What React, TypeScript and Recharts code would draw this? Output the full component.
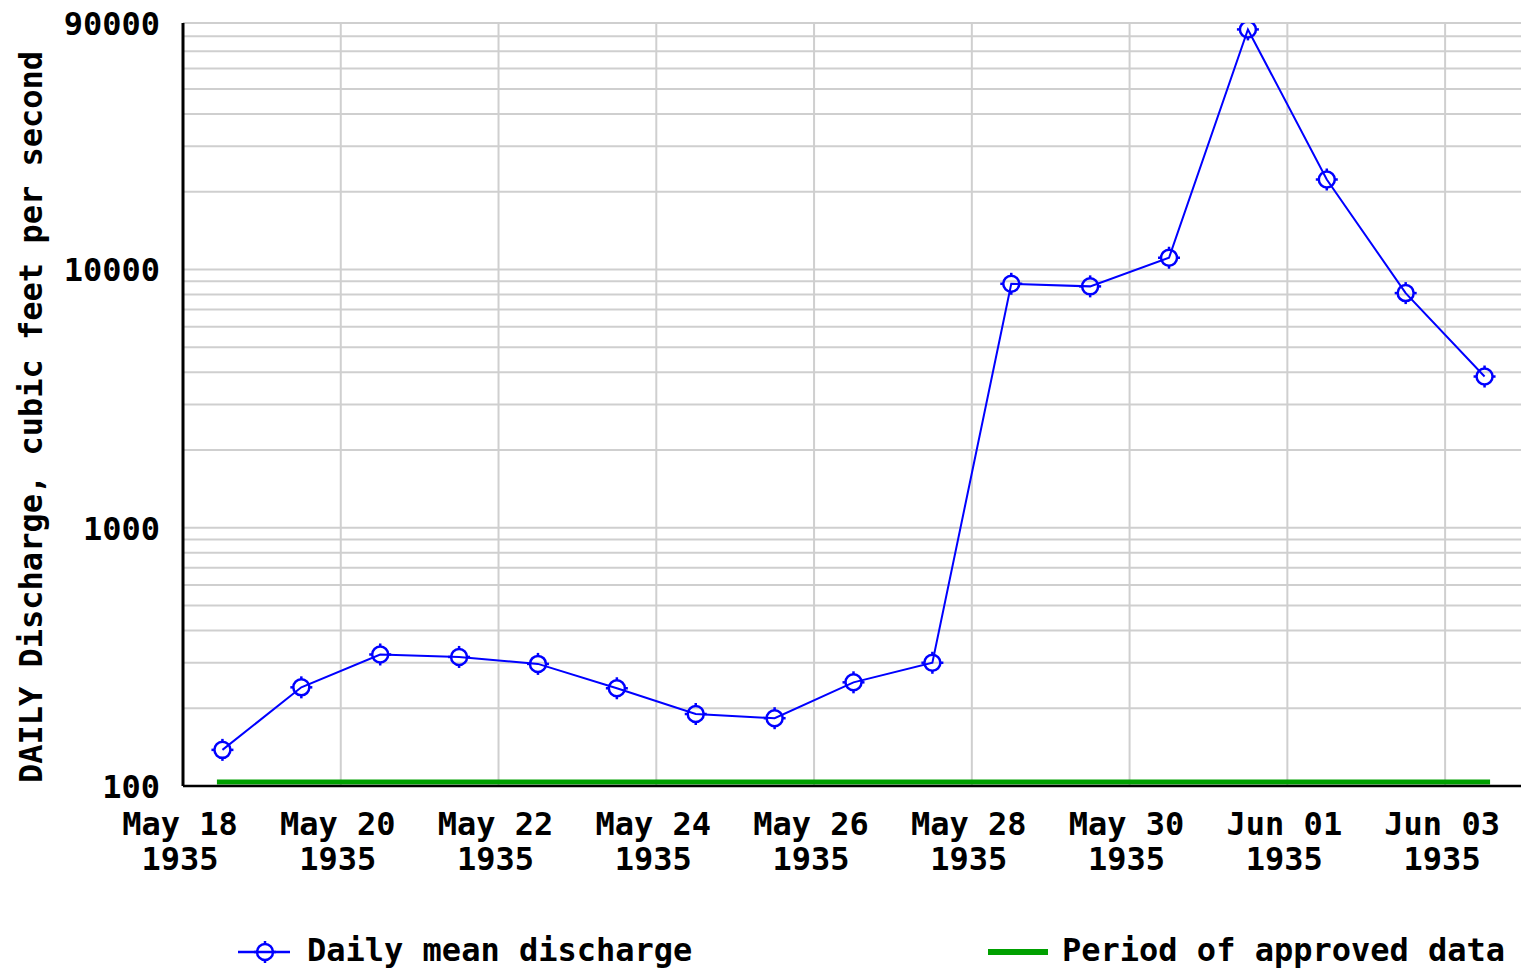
import React from 'react';
import { LineChart, Line, XAxis, YAxis, CartesianGrid, ReferenceLine, Label } from 'recharts';

// daily mean discharge, May 18 - Jun 03 1935 (cfs)
const days = [
  'May 18', 'May 19', 'May 20', 'May 21', 'May 22', 'May 23', 'May 24', 'May 25', 'May 26',
  'May 27', 'May 28', 'May 29', 'May 30', 'May 31', 'Jun 01', 'Jun 02', 'Jun 03',
];
const discharge = [138, 241, 323, 316, 297, 239, 190, 183, 252, 300, 8800, 8600, 11100, 85000, 22300, 8100, 3850];

const xTicks = [0, 2, 4, 6, 8, 10, 12, 14, 16];
const xTickLabels = ['May 18', 'May 20', 'May 22', 'May 24', 'May 26', 'May 28', 'May 30', 'Jun 01', 'Jun 03'];
const tickYear = '1935';
const topTicks = [0.5, 1, 1.5, 2.5, 3, 3.5, 4.5, 5, 5.5, 6.5, 7, 7.5, 8.5, 9, 9.5, 10.5, 11, 11.5, 12.5, 13, 13.5, 14.5, 15, 15.5, 16.5];

const yLabelTicks = [100, 1000, 10000, 90000];
const yGridTicks = [
  100, 200, 300, 400, 500, 600, 700, 800, 900,
  1000, 2000, 3000, 4000, 5000, 6000, 7000, 8000, 9000,
  10000, 20000, 30000, 40000, 50000, 60000, 70000, 80000, 90000,
];

// approved-data period bar, in days from May 18 00:00
const approvedStart = 0.43;
const approvedEnd = 16.57;
const approvedLevel = 103.6;

const data = days.map((d, i) => ({ day: i + 0.5, label: d, q: discharge[i] }));

const FONT = '"DejaVu Sans Mono", "Liberation Mono", monospace';
const BLUE = '#0000ff';
const GREEN = '#00a000';

function Marker({ cx, cy }: { cx: number; cy: number }) {
  return (
    <g stroke={BLUE} strokeWidth={2.5} fill="none">
      <circle cx={cx} cy={cy} r={8} />
      <line x1={cx} y1={cy - 8} x2={cx} y2={cy - 11} />
      <line x1={cx} y1={cy + 8} x2={cx} y2={cy + 11} />
      <line x1={cx - 8} y1={cy} x2={cx - 11} y2={cy} />
      <line x1={cx + 8} y1={cy} x2={cx + 11} y2={cy} />
    </g>
  );
}

function XTick({ x, y, payload, index }: any) {
  const i = xTicks.indexOf(payload.value);
  return (
    <g>
      <text x={x - 3} y={y + 49} textAnchor="middle" fontFamily={FONT} fontWeight="bold" fontSize={32} fill="#000">
        {xTickLabels[i >= 0 ? i : index]}
      </text>
      <text x={x - 3} y={y + 84} textAnchor="middle" fontFamily={FONT} fontWeight="bold" fontSize={32} fill="#000">
        {tickYear}
      </text>
    </g>
  );
}

function YTick({ x, y, payload }: any) {
  if (!yLabelTicks.includes(payload.value)) return <g />;
  return (
    <text x={x} y={y + 12} textAnchor="end" fontFamily={FONT} fontWeight="bold" fontSize={32} fill="#000">
      {payload.value}
    </text>
  );
}

export default function App() {
  return (
    <div style={{ position: 'absolute', left: 0, top: 0, width: 1521, height: 969, overflow: 'hidden', background: '#fff' }}>
      <LineChart width={1530} height={900} data={data} margin={{ top: 23, right: 6, left: 0, bottom: 0 }}>
        <CartesianGrid stroke="#cfcfcf" strokeWidth={2} />
        <XAxis
          dataKey="day"
          type="number"
          domain={[0, 17]}
          ticks={xTicks}
          interval={0}
          allowDataOverflow
          height={114}
          tickLine={false}
          tickSize={0}
          tickMargin={0}
          axisLine={{ stroke: '#000', strokeWidth: 2.5 }}
          tick={<XTick />}
        />
        <XAxis
          xAxisId="top"
          orientation="top"
          type="number"
          domain={[0, 17]}
          ticks={topTicks}
          interval={0}
          height={0}
          mirror
          tick={false}
          tickSize={4}
          tickLine={{ stroke: '#000', strokeWidth: 2 }}
          axisLine={{ stroke: '#000', strokeWidth: 2.5 }}
        />
        <YAxis
          scale="log"
          type="number"
          domain={[100, 90000]}
          ticks={yGridTicks}
          interval={0}
          allowDataOverflow
          width={183}
          tickLine={false}
          tickSize={0}
          tickMargin={23}
          axisLine={{ stroke: '#000', strokeWidth: 3 }}
          tick={<YTick />}
        >
          <Label
            content={() => (
              <text
                x={42}
                y={417}
                transform="rotate(-90, 42, 417)"
                textAnchor="middle"
                fontFamily={FONT}
                fontWeight="bold"
                fontSize={32}
                fill="#000"
              >
                DAILY Discharge, cubic feet per second
              </text>
            )}
          />
        </YAxis>
        <ReferenceLine
          segment={[{ x: approvedStart, y: approvedLevel }, { x: approvedEnd, y: approvedLevel }]}
          stroke={GREEN}
          strokeWidth={5}
          ifOverflow="visible"
        />
        <Line
          dataKey="q"
          stroke={BLUE}
          strokeWidth={2}
          isAnimationActive={false}
          dot={(p: any) => <Marker key={`m${p.index}`} cx={p.cx} cy={p.cy} />}
          activeDot={false}
        />
      </LineChart>
      <div style={{ position: 'absolute', left: 236, top: 930, display: 'flex', alignItems: 'center', fontFamily: FONT, fontWeight: 'bold', fontSize: 32 }}>
        <svg width={56} height={40}>
          <line x1={2} y1={22} x2={54} y2={22} stroke={BLUE} strokeWidth={2.5} />
          <Marker cx={29} cy={22} />
        </svg>
        <span style={{ marginLeft: 15, lineHeight: '40px' }}>Daily mean discharge</span>
      </div>
      <div style={{ position: 'absolute', left: 988, top: 930, display: 'flex', alignItems: 'center', fontFamily: FONT, fontWeight: 'bold', fontSize: 32 }}>
        <svg width={60} height={40}>
          <line x1={0} y1={22} x2={60} y2={22} stroke={GREEN} strokeWidth={6} />
        </svg>
        <span style={{ marginLeft: 14, lineHeight: '40px' }}>Period of approved data</span>
      </div>
    </div>
  );
}
